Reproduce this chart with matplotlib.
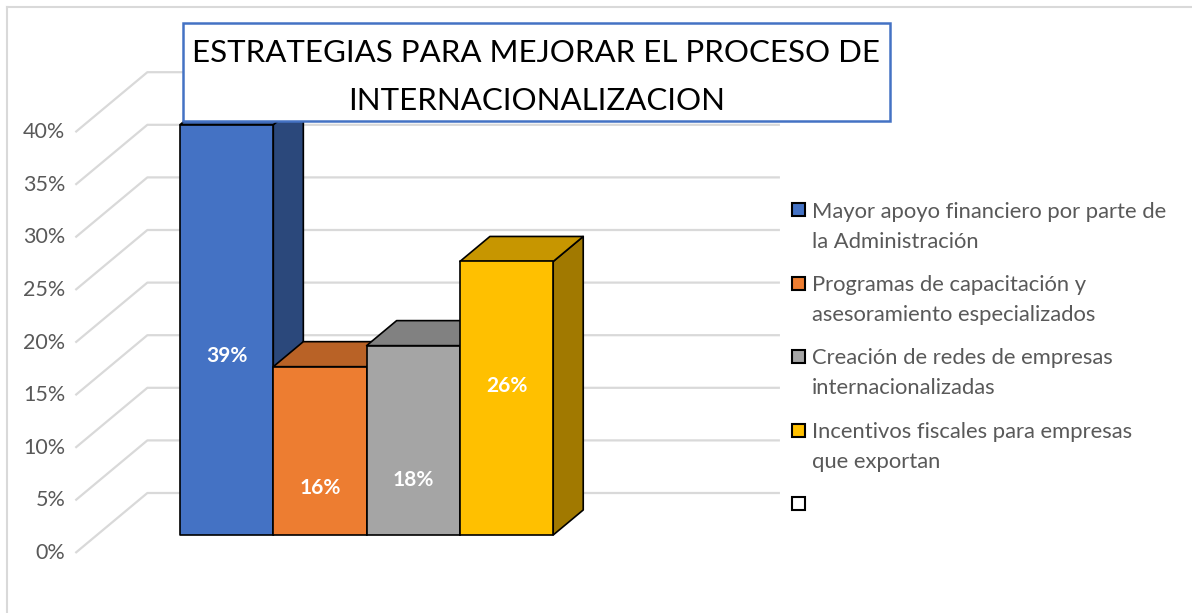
import matplotlib
matplotlib.use("Agg")
import matplotlib.pyplot as plt
from matplotlib.patches import Polygon, Rectangle
from matplotlib.lines import Line2D

# ---------------- data ----------------
series_labels = [
    "Mayor apoyo financiero por parte de\nla Administración",
    "Programas de capacitación y\nasesoramiento especializados",
    "Creación de redes de empresas\ninternacionalizadas",
    "Incentivos fiscales para empresas\nque exportan",
    "",
]
values = [39, 16, 18, 26, None]
value_labels = ["39%", "16%", "18%", "26%", ""]
colors = ["#4472C4", "#ED7D31", "#A5A5A5", "#FFC000", "#FFFFFF"]
yticks = [0, 5, 10, 15, 20, 25, 30, 35, 40]
ytick_labels = ["0%", "5%", "10%", "15%", "20%", "25%", "30%", "35%", "40%"]
title = "ESTRATEGIAS PARA MEJORAR EL PROCESO DE\nINTERNACIONALIZACION"

# ---------------- layout ----------------
W, H, DPI = 1192, 613, 100
X0_PX, UX = 180.0, 93.3      # pixel of x=0, pixels per bar slot
Y0_PX, UY = 535.0, 10.52     # pixel of 0 %, pixels per percent
DX, DY = 72.0 / UX, 60.0 / UY  # full floor depth vector (data units)
FRONT_FRAC, BACK_FRAC = 0.30, 0.717
GAP = 0.89
label_y = [17.0, 4.43, 5.19, 14.15, 0]   # vertical position of value labels
FONT = "Lato"
GRID = "#D9D9D9"
TXT = "#595959"


def shade(c, f):
    r, g, b = matplotlib.colors.to_rgb(c)
    return (r * f, g * f, b * f)


def fpx(x, y):
    """pixel (from top-left) -> figure fraction"""
    return x / W, 1 - y / H


fig = plt.figure(figsize=(W / DPI, H / DPI), dpi=DPI)
fig.patch.set_facecolor("white")
ax = fig.add_axes([0, 0, 1, 1])
ax.set_xlim(-X0_PX / UX, (W - X0_PX) / UX)
ax.set_ylim((Y0_PX - H) / UY, Y0_PX / UY)
ax.axis("off")

# outer chart border (top and left visible)
fig.add_artist(Line2D([7 / W, 7 / W], [1 - 7 / H, 0], color=GRID, lw=1.5,
                      transform=fig.transFigure))
fig.add_artist(Line2D([7 / W, 1], [1 - 7 / H, 1 - 7 / H], color=GRID, lw=1.5,
                      transform=fig.transFigure))

n = len(values)
left_front_x = -GAP - FRONT_FRAC * DX
left_back_x = -GAP + (1 - FRONT_FRAC) * DX
right_back_x = n + GAP + (1 - FRONT_FRAC) * DX

# gridlines: side wall diagonal + back wall horizontal
for v, lab in zip(yticks, ytick_labels):
    yf = v - FRONT_FRAC * DY
    yb = v + (1 - FRONT_FRAC) * DY
    ax.plot([left_front_x, left_back_x, right_back_x], [yf, yb, yb],
            color=GRID, lw=1.6, zorder=1, solid_capstyle="butt")
    ax.text(left_front_x - 10 / UX, yf, lab, ha="right", va="center",
            color=TXT, fontsize=15.5, family=FONT)

# 3D bars
bdx = (BACK_FRAC - FRONT_FRAC) * DX
bdy = (BACK_FRAC - FRONT_FRAC) * DY
for i, (v, c) in enumerate(zip(values, colors)):
    if v is None or v == 0:
        continue
    x0, x1 = i, i + 1
    side = Polygon([(x1, 0), (x1 + bdx, bdy), (x1 + bdx, v + bdy), (x1, v)],
                   closed=True, facecolor=shade(c, 0.63), edgecolor="black",
                   lw=1.2, zorder=3 + i, joinstyle="round")
    top = Polygon([(x0, v), (x1, v), (x1 + bdx, v + bdy), (x0 + bdx, v + bdy)],
                  closed=True, facecolor=shade(c, 0.78), edgecolor="black",
                  lw=1.2, zorder=3 + i, joinstyle="round")
    front = Rectangle((x0, 0), 1, v, facecolor=c, edgecolor="black",
                      lw=1.2, zorder=3 + i, joinstyle="round")
    for p in (side, top, front):
        ax.add_patch(p)
    ax.text(i + 0.5, label_y[i], value_labels[i], ha="center", va="center",
            color="white", fontsize=15, fontweight="bold", family=FONT,
            zorder=20)

# title box
bx0, by0, bx1, by1 = 183, 23, 890, 121
title_box = Rectangle(fpx(bx0, by1), (bx1 - bx0) / W, (by1 - by0) / H,
                      transform=fig.transFigure, facecolor="white",
                      edgecolor="#4472C4", lw=1.8, zorder=50)
fig.add_artist(title_box)
for k, line in enumerate(title.split("\n")):
    fig.text(*fpx((bx0 + bx1) / 2, 51 + k * 47.5), line, ha="center",
             va="center_baseline", fontsize=22.5, family=FONT, color="black",
             zorder=51)

# legend
leg_y0, leg_step, line_step = 209.5, 73.5, 30
for i, (lab, c) in enumerate(zip(series_labels, colors)):
    yc = leg_y0 + i * leg_step
    sq = Rectangle(fpx(792, yc + 6.5), 13 / W, 13 / H, transform=fig.transFigure,
                   facecolor=c, edgecolor="black", lw=1.5, zorder=30)
    fig.add_artist(sq)
    for k, line in enumerate(lab.split("\n")):
        if not line:
            continue
        fig.text(*fpx(812, yc + k * line_step), line, ha="left",
                 va="center_baseline", fontsize=15.8, family=FONT, color=TXT)

fig.savefig("out.png", dpi=DPI, facecolor="white")
